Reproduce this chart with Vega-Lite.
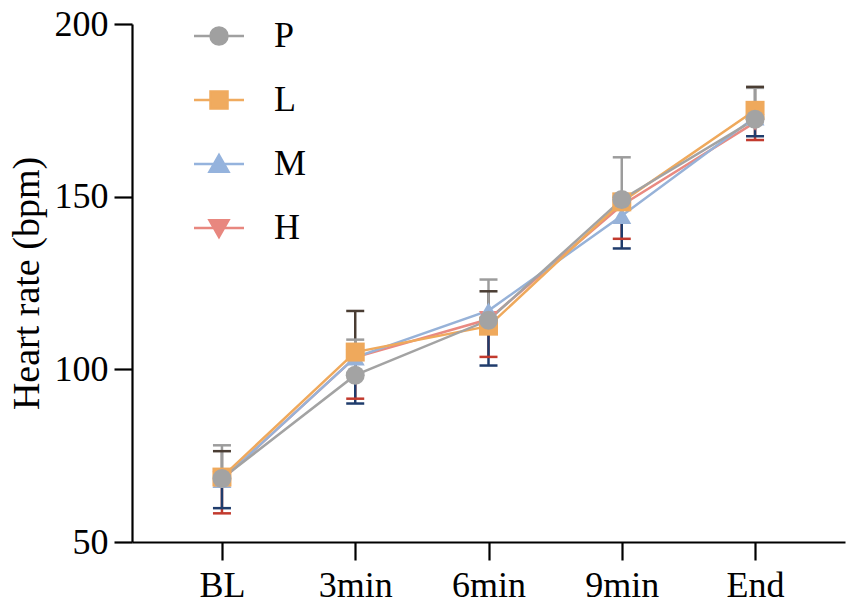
{
  "$schema": "https://vega.github.io/schema/vega-lite/v6.json",
  "width": 713,
  "height": 518,
  "autosize": "none",
  "padding": {"left": 132, "top": 24, "right": 6, "bottom": 62},
  "background": "white",
  "data": {
    "values": [
      {"group": "H", "time": "BL", "mean": 68.0, "cap": 58.3},
      {"group": "H", "time": "3min", "mean": 103.5, "cap": 91.5},
      {"group": "H", "time": "6min", "mean": 114.5, "cap": 103.6},
      {"group": "H", "time": "9min", "mean": 147.5, "cap": 137.8},
      {"group": "H", "time": "End", "mean": 171.5, "cap": 166.4},
      {"group": "M", "time": "BL", "mean": 68.0, "cap": 59.8},
      {"group": "M", "time": "3min", "mean": 103.5, "cap": 90.1},
      {"group": "M", "time": "6min", "mean": 117.0, "cap": 101.1},
      {"group": "M", "time": "9min", "mean": 144.5, "cap": 135.0},
      {"group": "M", "time": "End", "mean": 173.0, "cap": 167.5},
      {"group": "L", "time": "BL", "mean": 68.8, "cap": 76.3},
      {"group": "L", "time": "3min", "mean": 105.0, "cap": 116.9},
      {"group": "L", "time": "6min", "mean": 112.5, "cap": 122.6},
      {"group": "L", "time": "9min", "mean": 148.5, "cap": 150.0},
      {"group": "L", "time": "End", "mean": 175.0, "cap": 181.8},
      {"group": "P", "time": "BL", "mean": 68.4, "cap": 78.0},
      {"group": "P", "time": "3min", "mean": 98.3, "cap": 108.6},
      {"group": "P", "time": "6min", "mean": 114.2, "cap": 126.0},
      {"group": "P", "time": "9min", "mean": 149.2, "cap": 161.4},
      {"group": "P", "time": "End", "mean": 172.4, "cap": 181.5}
    ]
  },
  "encoding": {
    "x": {
      "field": "time",
      "type": "ordinal",
      "sort": ["BL", "3min", "6min", "9min", "End"],
      "scale": {"type": "point", "padding": 0.675},
      "axis": {"title": null, "labelAngle": 0, "labelPadding": 8}
    }
  },
  "layer": [
    {
      "mark": {"type": "rule", "strokeWidth": 2.5},
      "encoding": {
        "y": {
          "field": "mean",
          "type": "quantitative",
          "title": "Heart rate (bpm)",
          "scale": {"domain": [50, 200], "nice": false, "zero": false},
          "axis": {"values": [50, 100, 150, 200], "labelPadding": 6, "titlePadding": 8}
        },
        "y2": {"field": "cap"},
        "color": {
          "condition": [
            {"test": "datum.group == 'P'", "value": "#9c9c9c"},
            {"test": "datum.group == 'L'", "value": "#4a3d33"},
            {"test": "datum.group == 'M'", "value": "#1f3c6c"}
          ],
          "value": "#c23a2e"
        }
      }
    },
    {
      "mark": {"type": "tick", "orient": "horizontal", "size": 18, "thickness": 2.5, "opacity": 1},
      "encoding": {
        "y": {"field": "cap", "type": "quantitative", "scale": {"domain": [50, 200], "nice": false, "zero": false}},
        "order": {"field": "group", "sort": "descending"},
        "color": {
          "condition": [
            {"test": "datum.group == 'P'", "value": "#9c9c9c"},
            {"test": "datum.group == 'L'", "value": "#4a3d33"},
            {"test": "datum.group == 'M'", "value": "#1f3c6c"}
          ],
          "value": "#c23a2e"
        }
      }
    },
    {
      "mark": {"type": "line", "strokeWidth": 2.5},
      "encoding": {
        "y": {"field": "mean", "type": "quantitative", "scale": {"domain": [50, 200], "nice": false, "zero": false}},
        "color": {
          "field": "group",
          "type": "nominal",
          "scale": {"domain": ["P", "L", "M", "H"], "range": ["#a3a3a3", "#efa95c", "#97b2d8", "#e98a82"]},
          "legend": null
        }
      }
    },
    {
      "mark": {"type": "point", "filled": true, "size": 361, "opacity": 1},
      "encoding": {
        "y": {"field": "mean", "type": "quantitative", "scale": {"domain": [50, 200], "nice": false, "zero": false}},
        "color": {"field": "group", "type": "nominal", "legend": null},
        "shape": {
          "field": "group",
          "type": "nominal",
          "scale": {"domain": ["P", "L", "M", "H"], "range": ["circle", "square", "triangle-up", "triangle-down"]},
          "legend": null
        }
      }
    },
    {
      "mark": {"type": "point", "filled": true, "size": 0, "opacity": 1, "strokeWidth": 2.5},
      "encoding": {
        "y": {"field": "mean", "type": "quantitative", "scale": {"domain": [50, 200], "nice": false, "zero": false}},
        "fill": {
          "field": "group",
          "type": "nominal",
          "scale": {"domain": ["P", "L", "M", "H"], "range": ["#a0a0a0", "#f0ab5f", "#95b3dd", "#e8877f"]},
          "legend": {
            "title": null, "orient": "none", "legendX": 69, "legendY": -6, "padding": 0,
            "symbolSize": 625, "symbolStrokeWidth": 2.5, "labelOffset": 37,
            "labelFont": "Liberation Serif", "labelFontSize": 36, "labelColor": "#000000", "rowPadding": 28
          }
        },
        "stroke": {
          "field": "group",
          "type": "nominal",
          "scale": {"domain": ["P", "L", "M", "H"], "range": ["#a0a0a0", "#f0ab5f", "#95b3dd", "#e8877f"]},
          "legend": {
            "title": null, "orient": "none", "legendX": 69, "legendY": -6, "padding": 0,
            "symbolSize": 625, "symbolStrokeWidth": 2.5, "labelOffset": 37,
            "labelFont": "Liberation Serif", "labelFontSize": 36, "labelColor": "#000000", "rowPadding": 28
          }
        },
        "shape": {
          "field": "group",
          "type": "nominal",
          "scale": {
            "domain": ["P", "L", "M", "H"],
            "range": [
              "M-2,0H2M0.68,0A0.68,0.68,0,1,1,-0.68,0A0.68,0.68,0,1,1,0.68,0Z",
              "M-2,0H2M-0.68,-0.68H0.68V0.68H-0.68Z",
              "M-2,0H2M0,-0.72L0.76,0.62H-0.76Z",
              "M-2,0H2M0,0.72L0.76,-0.62H-0.76Z"
            ]
          },
          "legend": {
            "title": null, "orient": "none", "legendX": 69, "legendY": -6, "padding": 0,
            "symbolSize": 625, "symbolStrokeWidth": 2.5, "labelOffset": 37,
            "labelFont": "Liberation Serif", "labelFontSize": 36, "labelColor": "#000000", "rowPadding": 28
          }
        }
      }
    }
  ],
  "resolve": {
    "scale": {"shape": "independent", "fill": "independent", "stroke": "independent"},
    "legend": {"shape": "independent", "fill": "independent", "stroke": "independent"}
  },
  "config": {
    "view": {"stroke": null},
    "font": "Liberation Serif",
    "axis": {
      "grid": false,
      "domainColor": "#000000",
      "domainWidth": 2.2,
      "tickColor": "#000000",
      "tickWidth": 2.2,
      "tickSize": 18,
      "labelFont": "Liberation Serif",
      "labelFontSize": 36,
      "labelColor": "#000000",
      "titleFont": "Liberation Serif",
      "titleFontSize": 38,
      "titleFontWeight": "normal",
      "titleColor": "#000000"
    }
  }
}
